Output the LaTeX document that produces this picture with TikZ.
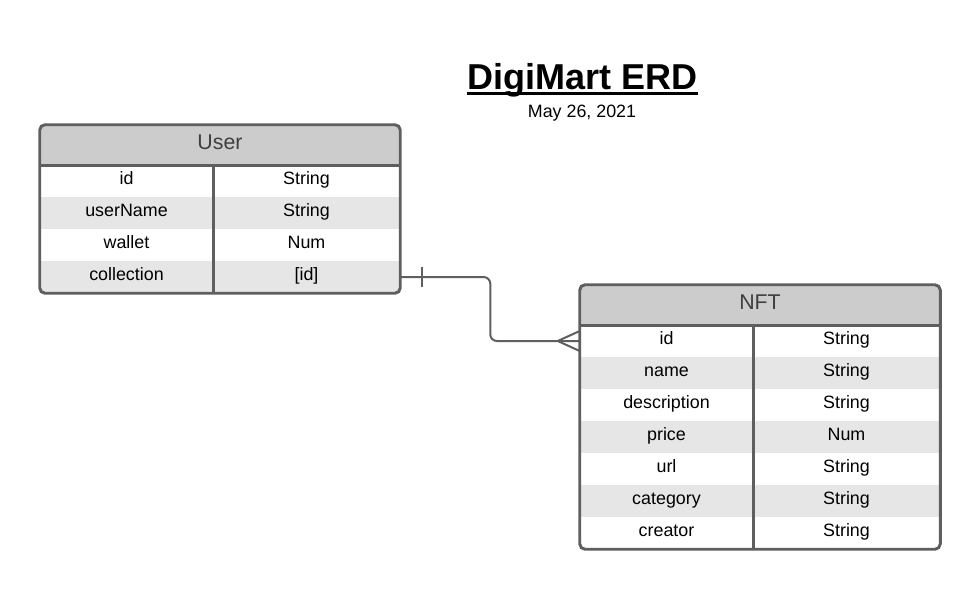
\documentclass[tikz,border=0pt]{standalone}
\usepackage{fontspec}
\setmainfont{Liberation Sans}
\definecolor{edgegray}{HTML}{5F5F5F}
\definecolor{headgray}{HTML}{CCCCCC}
\definecolor{stripe}{HTML}{E6E6E6}
\definecolor{headtext}{HTML}{3F3F3F}
\tikzset{
  hdr/.style={fill=headgray, inner sep=0pt, minimum height=30pt, text=headtext,
    font=\fontsize{16}{19}\selectfont, text height=11pt, text depth=4.25pt},
  cell/.style={inner sep=0pt, minimum height=24pt,
    font=\fontsize{13.4}{16}\selectfont, text height=9pt, text depth=3.75pt},
  cl/.style={cell, minimum width=129.75pt},
  cr/.style={cell, minimum width=140.25pt},
  wh/.style={fill=white},
  gr/.style={fill=stripe},
  tblborder/.style={draw=edgegray, line width=2.2pt, rounded corners=4pt},
  innerline/.style={draw=edgegray, line width=2.2pt},
  conn/.style={draw=edgegray, line width=1.5pt},
}
\begin{document}
\begin{tikzpicture}[x=0.75pt,y=-0.75pt]
\useasboundingbox[fill=white] (0,0) rectangle (980,589);

% Title
\node[inner sep=0pt, anchor=base, font=\bfseries\fontsize{27}{31}\selectfont] (title) at (582.5,89) {DigiMart ERD};
\draw[line width=2.2pt] ([yshift=-3.5pt]title.base west) -- ([yshift=-3.5pt]title.base east);
\node[inner sep=0pt, anchor=base, font=\fontsize{13.4}{16}\selectfont] (date) at (582,117.5) {May 26, 2021};

% User table
\begin{scope}
\clip[rounded corners=4pt] (40,125) rectangle (400,293);
\node[hdr, minimum width=270pt] (userH) at (220,145) {User};
\node[cl, wh] (u1n) at (126.5,181) {id};
\node[cr, wh] (u1t) at (306.5,181) {String};
\node[cl, gr] (u2n) at (126.5,213) {userName};
\node[cr, gr] (u2t) at (306.5,213) {String};
\node[cl, wh] (u3n) at (126.5,245) {wallet};
\node[cr, wh] (u3t) at (306.5,245) {Num};
\node[cl, gr] (u4n) at (126.5,277) {collection};
\node[cr, gr] (u4t) at (306.5,277) {[id]};
\end{scope}

% NFT table
\begin{scope}
\clip[rounded corners=4pt] (580,285) rectangle (940,549);
\node[hdr, minimum width=270pt] (nftH) at (760,305) {NFT};
\node[cl, wh] (n1n) at (666.5,341) {id};
\node[cr, wh] (n1t) at (846.5,341) {String};
\node[cl, gr] (n2n) at (666.5,373) {name};
\node[cr, gr] (n2t) at (846.5,373) {String};
\node[cl, wh] (n3n) at (666.5,405) {description};
\node[cr, wh] (n3t) at (846.5,405) {String};
\node[cl, gr] (n4n) at (666.5,437) {price};
\node[cr, gr] (n4t) at (846.5,437) {Num};
\node[cl, wh] (n5n) at (666.5,469) {url};
\node[cr, wh] (n5t) at (846.5,469) {String};
\node[cl, gr] (n6n) at (666.5,501) {category};
\node[cr, gr] (n6t) at (846.5,501) {String};
\node[cl, wh] (n7n) at (666.5,533) {creator};
\node[cr, wh] (n7t) at (846.5,533) {String};
\end{scope}

% Connector (one to many)
\draw[conn, rounded corners=5pt] (u4t.east) -- ++(90,0) |- (n1n.west);
\draw[conn] ([xshift=16.5pt,yshift=7.5pt]u4t.east) -- ([xshift=16.5pt,yshift=-7.5pt]u4t.east);
\draw[conn] ([yshift=7.5pt]n1n.west) -- ([xshift=-16.5pt]n1n.west) -- ([yshift=-7.5pt]n1n.west);

% Table lines
\draw[innerline] (userH.south west) -- (userH.south east);
\draw[innerline] (u1n.north east) -- (u4n.south east);
\draw[tblborder] (userH.north west) rectangle (u4t.south east);

\draw[innerline] (nftH.south west) -- (nftH.south east);
\draw[innerline] (n1n.north east) -- (n7n.south east);
\draw[tblborder] (nftH.north west) rectangle (n7t.south east);
\end{tikzpicture}
\end{document}
